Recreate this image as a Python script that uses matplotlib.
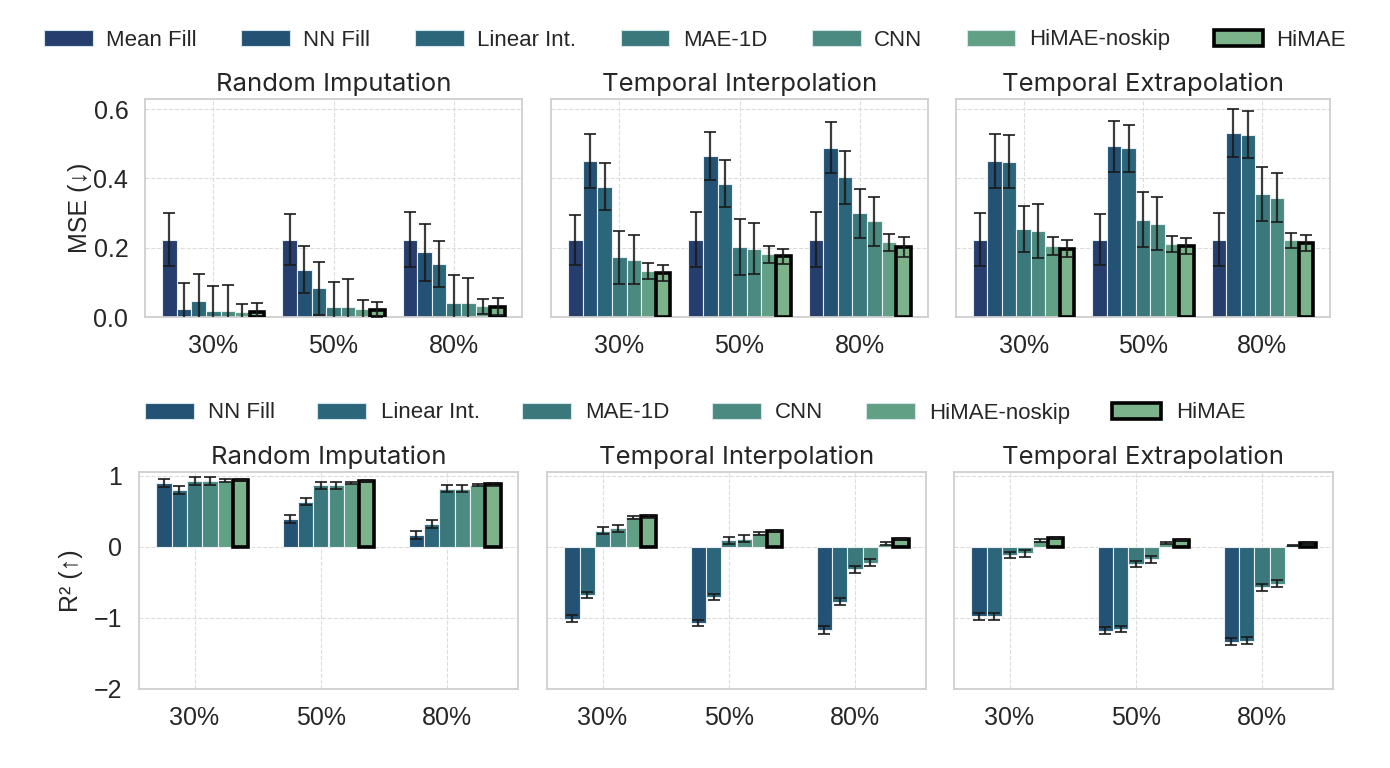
"""MSE / R^2 grouped bars for imputation baselines vs HiMAE."""
import matplotlib
matplotlib.use("Agg")
import matplotlib.pyplot as plt
import numpy as np
from matplotlib.patches import Patch

LEVELS = ["30%", "50%", "80%"]
TASKS = ["Random Imputation", "Temporal Interpolation", "Temporal Extrapolation"]
METHODS = ["Mean Fill", "NN Fill", "Linear Int.", "MAE-1D", "CNN", "HiMAE-noskip", "HiMAE"]
COLORS = ["#263e6d", "#245275", "#2b667a", "#3a787b", "#4b8a80", "#61a085", "#7db38a"]

# rows = methods (Mean Fill .. HiMAE), cols = masking level
MSE_RANDOM = [
    [0.223, 0.223, 0.223],
    [0.022, 0.137, 0.187],
    [0.045, 0.083, 0.153],
    [0.016, 0.028, 0.041],
    [0.016, 0.029, 0.040],
    [0.014, 0.022, 0.031],
    [0.014, 0.020, 0.030],
]
MSE_RANDOM_ERR = [
    [0.077, 0.074, 0.080],
    [0.077, 0.068, 0.082],
    [0.078, 0.077, 0.066],
    [0.073, 0.073, 0.080],
    [0.076, 0.080, 0.073],
    [0.024, 0.027, 0.021],
    [0.026, 0.024, 0.024],
]
MSE_INTERP = [
    [0.222, 0.223, 0.223],
    [0.450, 0.465, 0.489],
    [0.376, 0.384, 0.403],
    [0.172, 0.202, 0.299],
    [0.165, 0.197, 0.276],
    [0.133, 0.181, 0.215],
    [0.127, 0.175, 0.202],
]
MSE_INTERP_ERR = [
    [0.072, 0.080, 0.080],
    [0.079, 0.070, 0.074],
    [0.067, 0.068, 0.076],
    [0.077, 0.081, 0.071],
    [0.071, 0.074, 0.070],
    [0.022, 0.025, 0.024],
    [0.024, 0.022, 0.028],
]
MSE_EXTRAP = [
    [0.223, 0.223, 0.223],
    [0.450, 0.492, 0.530],
    [0.448, 0.487, 0.526],
    [0.254, 0.281, 0.355],
    [0.248, 0.269, 0.344],
    [0.205, 0.210, 0.221],
    [0.197, 0.205, 0.213],
]
MSE_EXTRAP_ERR = [
    [0.077, 0.073, 0.076],
    [0.079, 0.073, 0.069],
    [0.077, 0.068, 0.068],
    [0.067, 0.079, 0.077],
    [0.077, 0.077, 0.071],
    [0.027, 0.023, 0.022],
    [0.024, 0.022, 0.024],
]

# rows = methods (NN Fill .. HiMAE); Mean Fill has no R^2 bar
R2_RANDOM = [
    [0.897, 0.383, 0.164],
    [0.794, 0.631, 0.318],
    [0.925, 0.864, 0.813],
    [0.925, 0.864, 0.813],
    [0.930, 0.897, 0.870],
    [0.935, 0.918, 0.875],
]
R2_RANDOM_ERR = [
    [0.056, 0.056, 0.056],
    [0.056, 0.050, 0.053],
    [0.056, 0.050, 0.050],
    [0.056, 0.050, 0.050],
    [0.020, 0.016, 0.014],
    [0.015, 0.015, 0.015],
]
R2_INTERP = [
    [-1.010, -1.070, -1.170],
    [-0.678, -0.706, -0.776],
    [0.224, 0.089, -0.318],
    [0.257, 0.112, -0.224],
    [0.411, 0.190, 0.042],
    [0.425, 0.224, 0.103],
]
R2_INTERP_ERR = [
    [0.050, 0.040, 0.050],
    [0.047, 0.047, 0.050],
    [0.047, 0.050, 0.050],
    [0.045, 0.047, 0.047],
    [0.026, 0.023, 0.019],
    [0.015, 0.015, 0.015],
]
R2_EXTRAP = [
    [-0.980, -1.180, -1.336],
    [-0.980, -1.154, -1.320],
    [-0.117, -0.243, -0.570],
    [-0.093, -0.178, -0.519],
    [0.089, 0.056, 0.019],
    [0.126, 0.093, 0.051],
]
R2_EXTRAP_ERR = [
    [0.045, 0.050, 0.050],
    [0.045, 0.045, 0.045],
    [0.045, 0.045, 0.050],
    [0.045, 0.047, 0.045],
    [0.020, 0.016, 0.010],
    [0.015, 0.015, 0.015],
]

FONT = ["Liberation Sans", "DejaVu Sans"]
TITLE_FONT = ["Inter", "DejaVu Sans"]
plt.rcParams.update({
    "font.family": FONT,
    "text.color": "#262626",
    "axes.labelcolor": "#262626",
    "xtick.color": "#262626",
    "ytick.color": "#262626",
})

W = 0.85 / 7


def draw(ax, vals, errs, first):
    x = np.arange(len(LEVELS))
    for k, (v, e) in enumerate(zip(vals, errs)):
        i = k + first
        last = METHODS[i] == "HiMAE"
        ax.bar(
            x + (i - 3) * W, v, W, yerr=e, color=COLORS[i],
            edgecolor="black" if last else "#e8eef2",
            linewidth=2.6 if last else 0.8, zorder=2 + last,
            error_kw=dict(ecolor="#1a1a1a", elinewidth=1.6, capsize=4,
                          capthick=1.4, alpha=0.85, zorder=4),
        )
    ax.set_xticks(x, LEVELS)
    ax.grid(True, ls="--", color="#dcdcdc", lw=0.8, zorder=0)
    ax.set_axisbelow(True)
    for s in ax.spines.values():
        s.set_color("#cfcfcf")
        s.set_linewidth(1.3)
    ax.tick_params(length=0, labelsize=18, pad=12)


fig = plt.figure(figsize=(13.9, 7.68), dpi=100)
H = 768.0
top_x = [(145, 377), (551, 377), (956, 374)]
bot_x = [(139, 379), (547, 379), (954, 379)]

mse_sets = [(MSE_RANDOM, MSE_RANDOM_ERR), (MSE_INTERP, MSE_INTERP_ERR),
            (MSE_EXTRAP, MSE_EXTRAP_ERR)]
r2_sets = [(R2_RANDOM, R2_RANDOM_ERR), (R2_INTERP, R2_INTERP_ERR),
           (R2_EXTRAP, R2_EXTRAP_ERR)]

for j, ((l, w), (v, e)) in enumerate(zip(top_x, mse_sets)):
    ax = fig.add_axes([l / 1390, 1 - 317 / H, w / 1390, 218 / H])
    draw(ax, v, e, 0)
    ax.set_ylim(0, 0.629)
    ax.set_yticks([0.0, 0.2, 0.4, 0.6])
    ax.set_title(TASKS[j], fontsize=18.5, pad=6, family=TITLE_FONT)
    if j == 0:
        ax.set_yticklabels(["0.0", "0.2", "0.4", "0.6"])
        ax.set_ylabel("MSE (↓)", fontsize=18, labelpad=1)
    else:
        ax.set_yticklabels([])

for j, ((l, w), (v, e)) in enumerate(zip(bot_x, r2_sets)):
    ax = fig.add_axes([l / 1390, 1 - 689 / H, w / 1390, 217 / H])
    draw(ax, v, e, 1)
    ax.set_ylim(-2, 1.05)
    ax.set_yticks([-2, -1, 0, 1])
    ax.set_title(TASKS[j], fontsize=18.5, pad=6, family=TITLE_FONT)
    if j == 0:
        ax.set_yticklabels(["−2", "−1", "0", "1"])
        ax.set_ylabel("R² (↑)", fontsize=18, labelpad=8)
    else:
        ax.set_yticklabels([])


def handles(names):
    out = []
    for n in names:
        i = METHODS.index(n)
        last = n == "HiMAE"
        out.append(Patch(facecolor=COLORS[i],
                         edgecolor="black" if last else "#d5e3ea",
                         linewidth=2.6 if last else 0.8))
    return out


fig.legend(handles(METHODS), METHODS, loc="center", bbox_to_anchor=(0.5, 1 - 40 / H),
           ncol=7, frameon=False, fontsize=16, handlelength=2.2, handleheight=0.75,
           handletextpad=0.6, columnspacing=2.0)
fig.legend(handles(METHODS[1:]), METHODS[1:], loc="center", bbox_to_anchor=(0.5, 1 - 413 / H),
           ncol=6, frameon=False, fontsize=16, handlelength=2.2, handleheight=0.75,
           handletextpad=0.65, columnspacing=1.9)

fig.savefig("out.png", dpi=100)
